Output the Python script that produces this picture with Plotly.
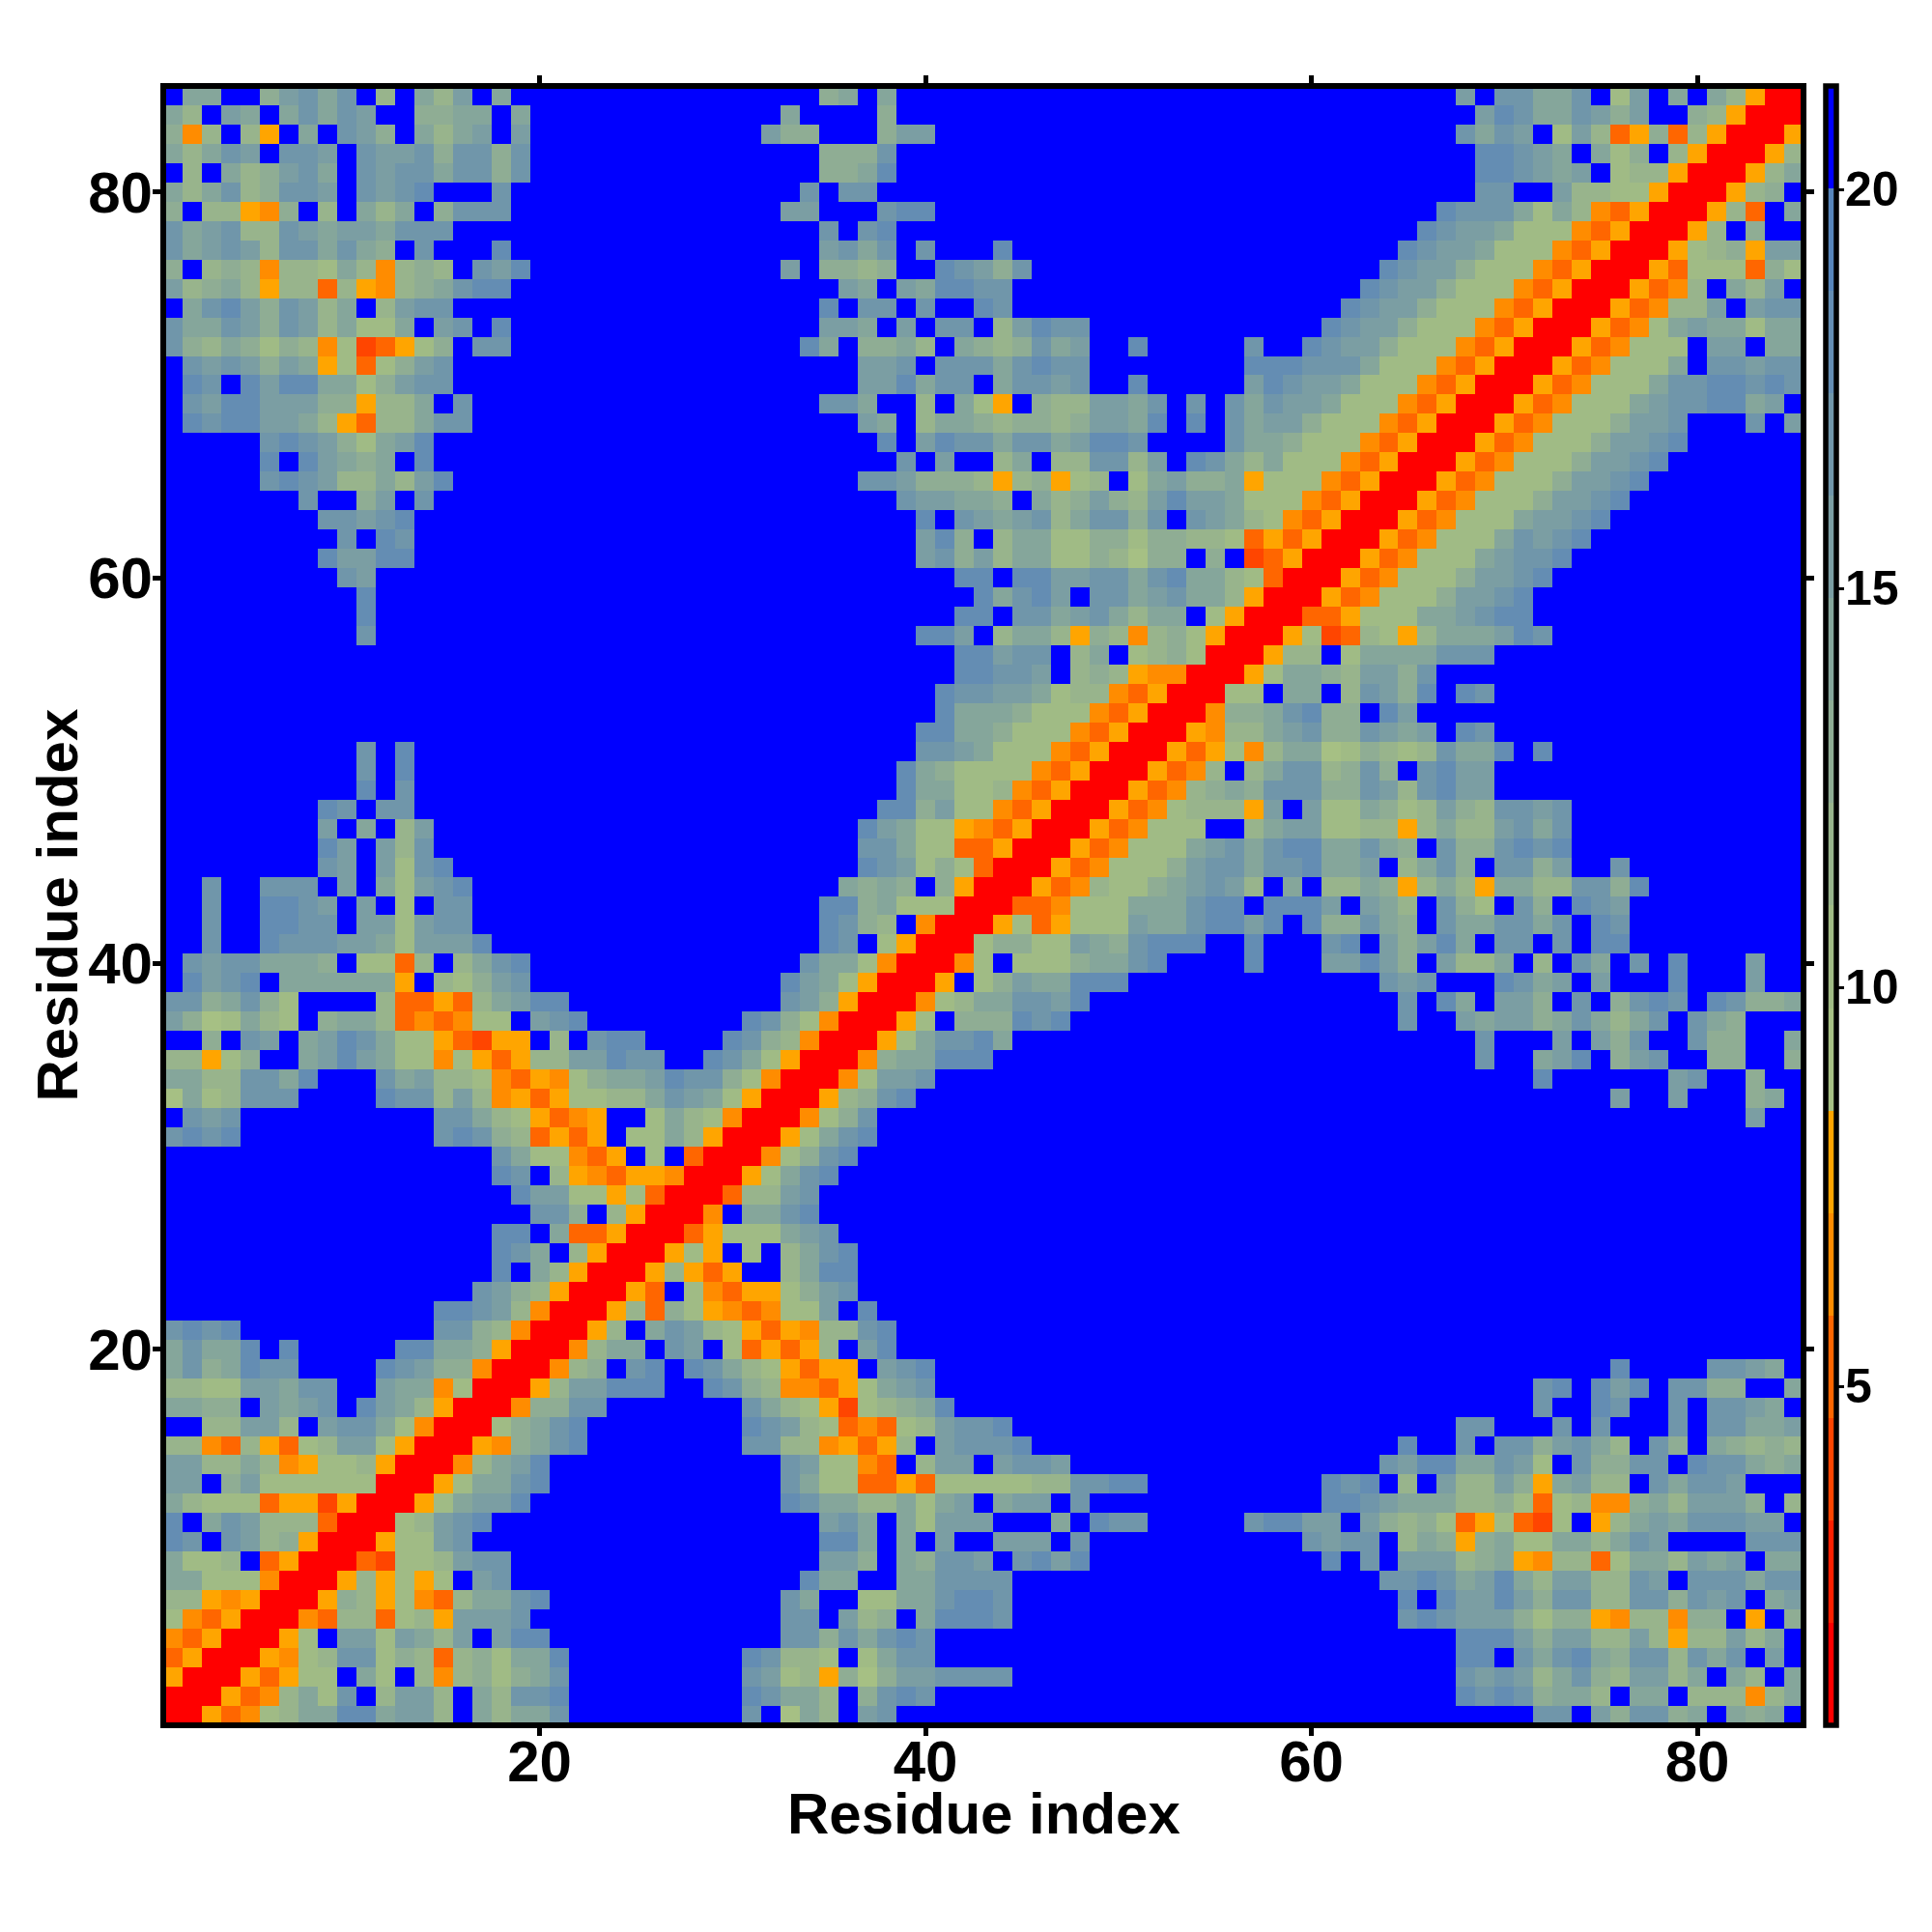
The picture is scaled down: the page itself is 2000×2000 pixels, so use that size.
import plotly.graph_objects as go

N = 85
# Band index per cell: 0-5 red..orange, 6-d green..steel blue, '.' = blue (top band).
# Each row: residue y -> "xstart:cells" runs for x <= y (the map is symmetric); anything unlisted is blue.
rows = {
85: "1:.aa..9bcac.8.a8b.a 35:9a.a 68:b.ccaac.7b.a.a8500",
84: "1:a8.ba.acacb..99aa.a 33:a 38:9 69:bdcaacb9b..98500",
83: "1:948.85.a.cb9.a8ab.b 32:b99 38:9bb 68:cacb.7b835938500",
82: "1:a8acb.ccb.cbbc9cc9c 35:999c 69:ddcba.a79.8500",
81: "1:.8.a89bca.cbccacc9c 35:99ad 69:ddcbab.788500",
80: "1:a8ac89ccb.cbcd...c 34:c.cc 69:cc..b8877500",
79: "1:9.88549.8.a8a.9ccc 33:bb 38:cdd 67:dccca7a843500",
78: "1:cabc88cbabbaccc 35:c.cd 66:dcbba77743500",
77: "1:cabcb8ccaca9.c...d 35:bcac.c 44:d 65:dcbba77743500",
76: "1:9.8984887a84898.cbd 33:b 35:9989 41:dcb9c 64:dcbb977743500",
75: "1:b89a8588385489acdd 36:ba.baddcc 63:dcbb977743500",
74: "1:.acdb9cb8a.8bcc 35:d.cc.c 43:dc 62:dcbb977743500",
73: "1:caacb9cb8a77a.bc.d 35:bba.b.cc.8bdcc 61:dcbb977743500",
72: "1:c98a97984723579.cc 34:da.99a8.a989cab..d 57:c 60:dcbb977743500",
71: "1:.cbcb9ba57379bc 37:bbc.cccacdcc 57:dddccca77743500",
70: "1:.dc.dbddaa79bcc 37:bbdacc.accbc..d 57:bdcbba77743500",
69: "1:.cbddbbb99588a.c 35:cca..8.a75.988bbac.c 56:cacbba77743500",
68: "1:.dcddbba85388acc 37:ba.8aa989989bbad.d 56:cabb977743500",
67: "6:cdcb97abd 38:d.bdccaccabddc 56:caa977743500",
66: "6:d.dba9a.d 39:c.b..8a.88cc8b.dc 56:a8a77743500",
65: "6:cdcb88a8bd 37:ccb9998589578.7ab99 56:a577743500",
64: "8:c..9b.c 39:cbbaa9.a89b98bdbb 56:a77743500",
63: "9:ccbcd 40:d.cbabc8acc9c.cb 56:a8743500",
62: "10:c.dc 40:bd9.8aa779979988 56:7353500",
61: "9:dbbdd 40:bc9b8aa7798699.9 56:.23500",
60: "10:cb 42:dd.ddbbccacdaa87300",
59: "11:d 43:dacdb.ccabcaa8500",
58: "11:d 42:dd.ccabca8aa.7500",
57: "11:c 40:ddb.8aa85984897500",
56: "42:ddbcc.8a.789700",
55: "42:ddccb.89854400",
54: "41:dccbba78843500",
53: "41:daaa977743500",
52: "40:ddaa977743500",
51: "11:c.d 40:ccba77743500",
50: "11:c.d 39:da9777743500",
49: "11:d.c 39:daa77843500",
48: "9:dc.cc 38:dd9b7743500",
47: "9:b.a.8b 37:dba77543500",
46: "9:db.b8c 37:cca7733500",
45: "9:cb.b7cd 37:dcb797300",
44: "3:c 6:ccc.b.a7bcd 36:a9a9.9500",
43: "3:c 6:ddcb.b.7.cc 35:dd9a77700",
42: "3:c 6:ddcc.bb7bcc 35:dc98.400",
41: "3:c 6:dcccbba7bbbd 35:dc.7500",
40: "2:cbccaaa9.7738.8acd 34:caa7400",
39: "2:dbcd.aaaaaa5.879bc 33:dba7500",
38: "1:cc9ac97....833538abdd 33:cb9500",
37: "1:b967a87.9aa8343477.bcd 31:dc97400",
36: "1:..9.cb.abdca7753255.8.cdd 30:dc98400",
35: "1:88579..abdba774753588bbdcc 29:dca7500",
34: "1:aa88ccad...cab887435479aabdcc97400",
33: "1:6a78ccc....dcc8b845357788acba7500",
32: "1:.cbc 15:cca875345..7a87400",
31: "1:cdcd 15:cdc983535.77a8500",
30: "18:ca77435.7.300",
29: "18:dc.854355400",
28: "19:dbb7757300",
27: "20:cc9.8500",
26: "18:dd.a33500",
25: "18:dca.8500",
24: "18:d.a8500",
23: "17:cb98500",
22: "15:ddcb8400",
21: "1:cdcd 15:cc98400",
20: "1:acaad.d 13:ddaa9500",
19: "1:ac9adcc 12:dcb99400",
18: "1:8877bbacc 12:baa4700",
17: "1:aa99.babc.dba8500",
16: "1:..88bb8.bcca7400",
15: "1:884385378bb7500",
14: "1:bb88a845778500",
13: "1:bb.9b77777700",
12: "1:a87773552500",
11: "1:d.acb888300",
10: "1:dc.cb89500",
9: "1:a778.3500",
8: "1:aa777400",
7: "1:8854500",
6: "1:743500",
5: "1:43500",
4: "1:3500",
3: "1:500",
2: "1:00",
1: "1:0",
}

band_colors = ["#ff0000", "#ff2000", "#ff4500", "#ff6600", "#ff8c00", "#ffa500",
               "#a6c084", "#a0bb85", "#98b48c", "#8fad94", "#85a69b", "#7b9ea3",
               "#7096aa", "#648db3", "#5785bb", "#0000ff"]
z_low, z_high = 0.75, 21.3
tick_vals = [20, 40, 60, 80]
bar_ticks = [5, 10, 15, 20]
axis_title = "Residue index"

step = (z_high - z_low) / len(band_colors)
TOP = len(band_colors) - 1
z = [[z_low + step * (TOP + 0.5) for _ in range(N)] for _ in range(N)]
for y, spec in rows.items():
    for run in spec.split():
        start, cells = run.split(":")
        for offset, ch in enumerate(cells):
            x = int(start) + offset
            if x > y:
                continue
            level = TOP if ch == "." else int(ch, 16)
            z[y - 1][x - 1] = z[x - 1][y - 1] = z_low + step * (level + 0.5)

colorscale = []
for i, c in enumerate(band_colors):
    colorscale += [[i / len(band_colors), c], [(i + 1) / len(band_colors), c]]

axis_font = dict(family="Liberation Sans", size=60, weight=700, color="black")
bar_font = dict(family="Liberation Sans", size=50, weight=700, color="black")
fig = go.Figure(go.Heatmap(
    x=list(range(1, N + 1)), y=list(range(1, N + 1)), z=z,
    zmin=z_low, zmax=z_high, colorscale=colorscale, hoverinfo="skip",
    colorbar=dict(
        x=1.0134, xref="paper", xanchor="left", xpad=0, y=0.5, yanchor="middle", ypad=0,
        len=1, thicknessmode="pixels", thickness=11, outlinewidth=5.5, outlinecolor="black",
        borderwidth=0, tickmode="array", tickvals=bar_ticks, ticktext=[""] * len(bar_ticks),
        ticks="outside", ticklen=6, tickwidth=3, tickcolor="black", tickfont=bar_font,
    ),
))
axis = dict(range=[0.5, N + 0.5], tickmode="array", tickvals=tick_vals, ticks="outside",
            ticklen=10, tickwidth=5, tickcolor="black", mirror="ticks", showline=False,
            showgrid=False, zeroline=False, tickfont=axis_font, automargin=False)
annotations = [
    dict(text=axis_title, font=axis_font, xref="paper", yref="paper", x=0.5, y=0,
         yshift=-91, xanchor="center", yanchor="middle", showarrow=False),
    dict(text=axis_title, font=axis_font, xref="paper", yref="paper", x=0, y=0.5,
         xshift=-110, xanchor="center", yanchor="middle", textangle=-90, showarrow=False),
]
for v in bar_ticks:
    annotations.append(dict(
        text=str(v), font=bar_font, xref="paper", yref="paper", x=1, xshift=43,
        y=(v - z_low) / (z_high - z_low), xanchor="left", yanchor="middle", showarrow=False,
        borderpad=0, borderwidth=0))
fig.update_layout(
    width=2000, height=2000, autosize=False, paper_bgcolor="white", plot_bgcolor="white",
    margin=dict(l=168.5, r=133, t=89, b=214),
    xaxis=dict(axis, ticklabelstandoff=-25),
    yaxis=dict(axis, ticklabelstandoff=-12),
    annotations=annotations,
    shapes=[dict(type="rect", xref="paper", yref="paper", x0=0, x1=1, y0=0, y1=1,
                 line=dict(color="black", width=6), layer="above")],
)
fig.write_html("out.html", post_script="document.body.style.margin='0';",
               config={"displayModeBar": False})
